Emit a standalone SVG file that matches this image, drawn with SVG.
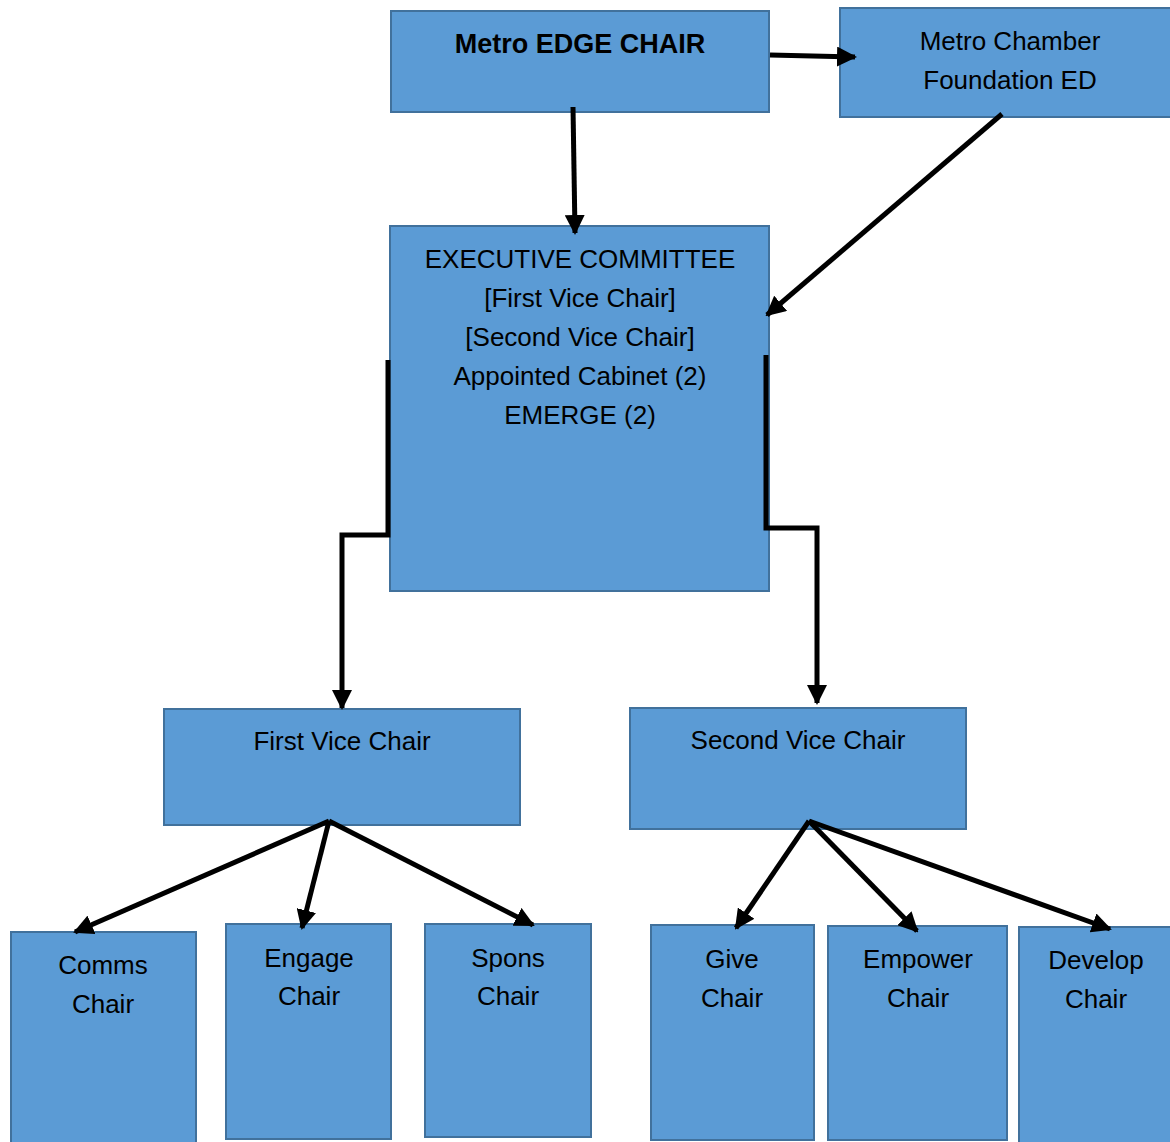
<svg xmlns="http://www.w3.org/2000/svg" width="1170" height="1142" viewBox="0 0 1170 1142">
<defs>
<style>
.box{fill:#5B9BD5;stroke:#41719C;stroke-width:2}
.t{font-family:"Liberation Sans",Arial,sans-serif;font-size:26px;fill:#000;text-anchor:middle}
.b{font-weight:bold;font-size:27px}
.c{fill:none;stroke:#000;stroke-width:5}
</style>
<marker id="ah" viewBox="0 0 10 10" refX="9" refY="5" markerWidth="4" markerHeight="4" markerUnits="strokeWidth" orient="auto">
<path d="M0,0 L10,5 L0,10 z" fill="#000"/>
</marker>
</defs>
<rect width="1170" height="1142" fill="#fff"/>
<g id="edge-chair"><rect class="box" x="391" y="11" width="378" height="101"/><text class="t b" x="580" y="53">Metro EDGE CHAIR</text></g>
<g id="foundation-ed"><rect class="box" x="840" y="8" width="334" height="109"/><text class="t" x="1010" y="50">Metro Chamber</text><text class="t" x="1010" y="89">Foundation ED</text></g>
<g id="exec"><rect class="box" x="390" y="226" width="379" height="365"/>
<text class="t" x="580" y="268">EXECUTIVE COMMITTEE</text>
<text class="t" x="580" y="307">[First Vice Chair]</text>
<text class="t" x="580" y="346">[Second Vice Chair]</text>
<text class="t" x="580" y="385">Appointed Cabinet (2)</text>
<text class="t" x="580" y="424">EMERGE (2)</text></g>
<g id="first-vc"><rect class="box" x="164" y="709" width="356" height="116"/><text class="t" x="342" y="750">First Vice Chair</text></g>
<g id="second-vc"><rect class="box" x="630" y="708" width="336" height="121"/><text class="t" x="798" y="749">Second Vice Chair</text></g>
<g id="comms"><rect class="box" x="11" y="932" width="185" height="215"/><text class="t" x="103" y="974">Comms</text><text class="t" x="103" y="1013">Chair</text></g>
<g id="engage"><rect class="box" x="226" y="924" width="165" height="215"/><text class="t" x="309" y="967">Engage</text><text class="t" x="309" y="1005">Chair</text></g>
<g id="spons"><rect class="box" x="425" y="924" width="166" height="213"/><text class="t" x="508" y="967">Spons</text><text class="t" x="508" y="1005">Chair</text></g>
<g id="give"><rect class="box" x="651" y="925" width="163" height="215"/><text class="t" x="732" y="968">Give</text><text class="t" x="732" y="1007">Chair</text></g>
<g id="empower"><rect class="box" x="828" y="926" width="179" height="214"/><text class="t" x="918" y="968">Empower</text><text class="t" x="918" y="1007">Chair</text></g>
<g id="develop"><rect class="box" x="1019" y="927" width="155" height="220"/><text class="t" x="1096" y="969">Develop</text><text class="t" x="1096" y="1008">Chair</text></g>
<g id="connectors" class="c" marker-end="url(#ah)">
<line x1="770" y1="55" x2="855" y2="57"/>
<line x1="573" y1="107" x2="575" y2="233"/>
<line x1="1002" y1="114" x2="767" y2="315"/>
<polyline points="388,360 388,535 342,535 342,708"/>
<polyline points="766,355 766,528 817,528 817,703"/>
<line x1="329" y1="821" x2="75" y2="932"/>
<line x1="329" y1="821" x2="302" y2="928"/>
<line x1="329" y1="821" x2="533" y2="925"/>
<line x1="809" y1="821" x2="736" y2="928"/>
<line x1="809" y1="821" x2="917" y2="931"/>
<line x1="809" y1="821" x2="1110" y2="929"/>
</g>
</svg>
